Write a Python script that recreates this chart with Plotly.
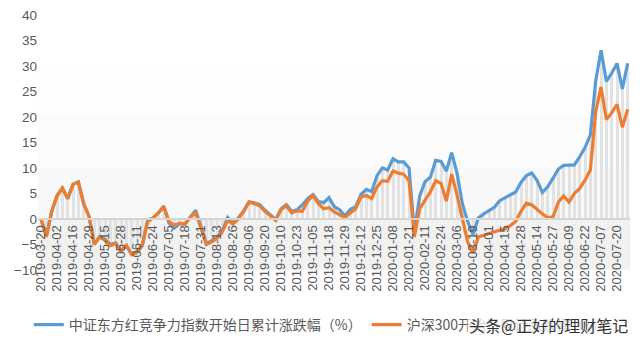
import plotly.graph_objects as go

# tick labels (every 9 trading days, starting 2019-03-20)
tick_labels = [
    "2019-03-20", "2019-04-02", "2019-04-16", "2019-04-29", "2019-05-15", "2019-05-28",
    "2019-06-11", "2019-06-24", "2019-07-05", "2019-07-18", "2019-07-31", "2019-08-13",
    "2019-08-26", "2019-09-06", "2019-09-20", "2019-10-10", "2019-10-23", "2019-11-05",
    "2019-11-18", "2019-11-29", "2019-12-12", "2019-12-25", "2020-01-08", "2020-01-21",
    "2020-02-11", "2020-02-24", "2020-03-06", "2020-03-19", "2020-04-01", "2020-04-15",
    "2020-04-28", "2020-05-14", "2020-05-27", "2020-06-09", "2020-06-22", "2020-07-07",
    "2020-07-20",
]
tick_step = 9          # trading days between tick labels
sample_step = 3        # trading days between sampled values

# cumulative change (%) read every 3 trading days from 2019-03-20
blue = [
    0, -3.3, 1.5, 4.6, 6.1, 4.0, 6.8, 7.3, 3.0, 0.5,
    -5.0, -3.4, -4.0, -5.0, -4.7, -6.2, -5.2, -6.9, -6.6, -5.2,
    -0.2, 0.2, 1.2, 2.5, -0.8, -1.8, -0.9, -1.0, 0.4, 1.7,
    -1.5, -4.8, -4.3, -3.6, -2.3, 0.3, -0.8, 0.2, 1.6, 3.4,
    3.2, 2.8, 1.7, 0.7, -0.1, 2.0, 2.8, 1.5, 1.8, 2.8,
    4.0, 4.8, 3.4, 3.2, 4.2, 2.4, 1.8, 0.6, 1.9, 2.4,
    4.8, 5.8, 5.4, 8.5, 10.0, 9.6, 11.8, 11.2, 11.2, 10.0,
    -2.5, 4.5, 7.3, 8.2, 11.5, 11.3, 9.4, 13.0, 9.0, 3.0,
    -0.5, -3.0, 0.2, 1.0, 1.7, 2.3, 3.6, 4.2, 4.8, 5.3,
    7.2, 8.5, 9.0, 7.6, 5.2, 6.3, 8.0, 9.8, 10.5, 10.5,
    10.6, 12.2, 14.0, 16.5, 27.0, 33.1, 27.0, 28.6, 30.5, 25.5,
    30.5,
]
orange = [
    0, -3.5, 1.5, 4.5, 6.0, 4.0, 6.8, 7.2, 3.0, 0.5,
    -5.0, -3.5, -4.2, -5.2, -4.8, -6.3, -5.2, -7.0, -6.5, -5.0,
    -0.5, 0.2, 1.2, 2.5, -0.5, -1.2, -0.8, -1.0, 0.3, 1.2,
    -1.8, -5.0, -4.5, -3.8, -2.5, -0.3, -1.0, 0.0, 1.5, 3.3,
    3.0, 2.6, 1.5, 0.5, -0.3, 1.8, 2.6, 1.2, 1.6, 1.5,
    3.5, 4.6, 3.0, 2.0, 2.2, 1.4, 0.8, 0.3, 1.2, 2.0,
    4.3, 4.6, 4.0, 6.3, 7.5, 7.4, 9.4, 9.0, 8.8, 7.5,
    -3.5, 2.0, 3.7, 5.3, 7.5, 7.0, 3.5, 8.8, 4.7, 0.0,
    -4.5, -6.7, -3.5, -3.2, -2.8, -2.5, -2.2, -1.9, -1.3, -0.5,
    1.5, 3.1, 2.8, 1.8, 1.0, 0.3, 0.4, 3.3, 4.5, 3.3,
    5.0, 6.0, 7.6, 9.6, 21.0, 25.9, 19.5, 20.8, 22.5, 18.0,
    21.5,
]

name_blue = "中证东方红竞争力指数开始日累计涨跌幅（%）"
name_orange = "沪深300开始日累计涨跌幅（%）"

x = [i * sample_step for i in range(len(blue))]
tickvals = [i * tick_step for i in range(len(tick_labels))]

BLUE = "#5B9BD5"
ORANGE = "#ED7D31"
TXT = "#595959"
FONT = "Noto Sans CJK SC, Liberation Sans, sans-serif"

# subtle vertical background gradient (white at top to light grey near zero)
bands = [(30, 40, "#ffffff"), (20, 30, "#fdfdfd"), (10, 20, "#fbfbfb"),
         (0, 10, "#f8f8f8"), (-10, 0, "#f1f1f1")]
shapes = [dict(type="rect", xref="paper", yref="y", x0=0, x1=1, y0=a, y1=b,
               fillcolor=c, line=dict(width=0), layer="below") for a, b, c in bands]

fig = go.Figure()
fig.add_trace(go.Bar(x=x, y=blue, width=1.7, marker=dict(color="#e2e2e2", line=dict(width=0)),
                     showlegend=False, hoverinfo="skip"))
fig.add_trace(go.Scatter(x=x, y=blue, mode="lines", name=name_blue,
                         line=dict(color=BLUE, width=3.2)))
fig.add_trace(go.Scatter(x=x, y=orange, mode="lines", name=name_orange,
                         line=dict(color=ORANGE, width=3.2)))

fig.update_layout(
    width=640, height=344,
    margin=dict(l=38, r=10, t=15, b=74),
    paper_bgcolor="white", plot_bgcolor="white",
    font=dict(family=FONT, color=TXT),
    bargap=0,
    shapes=shapes,
    xaxis=dict(
        range=[-1.7, 331.3], tickmode="array", tickvals=tickvals, ticktext=tick_labels,
        tickangle=-90, tickfont=dict(size=13, color=TXT, family="Liberation Sans, Arial"),
        showgrid=False, zeroline=False, showline=True, linecolor="#d4d4d4", linewidth=2,
        anchor="free", position=0.2, ticks="", automargin=False,
    ),
    yaxis=dict(
        range=[-10, 40], tickvals=[-10, -5, 0, 5, 10, 15, 20, 25, 30, 35, 40],
        tickfont=dict(size=13.5, color=TXT, family="Liberation Sans, Arial"),
        showgrid=False, zeroline=False, showline=False, ticks="", automargin=False,
    ),
    legend=dict(
        orientation="h", xref="container", yref="container",
        x=0.045, y=0.055, xanchor="left", yanchor="middle",
        font=dict(size=14, color=TXT, family=FONT),
        itemwidth=30, tracegroupgap=0, bgcolor="rgba(0,0,0,0)",
    ),
    annotations=[
        dict(text="头条@正好的理财笔记", xref="paper", yref="paper",
             x=1.0, y=-0.216, xanchor="right", yanchor="middle", showarrow=False,
             font=dict(size=16, color="#333333", family=FONT),
             bgcolor="rgba(255,255,255,0.75)"),
    ],
)

fig.write_html("out.html")
